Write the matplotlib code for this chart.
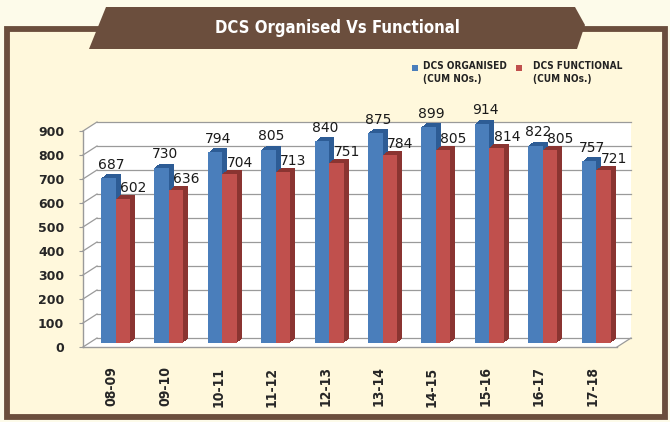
import matplotlib
matplotlib.use("Agg")
import matplotlib.pyplot as plt
import numpy as np
from matplotlib.patches import Rectangle, Polygon
from matplotlib.transforms import ScaledTranslation

# data
years = ['08-09', '09-10', '10-11', '11-12', '12-13', '13-14', '14-15', '15-16', '16-17', '17-18']
organised = [687, 730, 794, 805, 840, 875, 899, 914, 822, 757]
functional = [602, 636, 704, 713, 751, 784, 805, 814, 805, 721]
yticks = [0, 100, 200, 300, 400, 500, 600, 700, 800, 900]

W, H = 670, 422
BROWN = '#6B4E3D'
BLUE, BLUE_DK = '#4A7EBB', '#2D5C95'
RED, RED_DK = '#C0504D', '#8A3431'
GRID = '#9a9a9a'


def fx(px):
    return px / W


def fy(py):
    return 1 - py / H


fig = plt.figure(figsize=(W / 100, H / 100), dpi=100)
fig.patch.set_facecolor('#FDFBEA')

# framed panel + title banner
fig.add_artist(Rectangle((fx(6.75), fy(417)), fx(665) - fx(6.75), fy(29) - fy(417),
                         transform=fig.transFigure, facecolor='#FFF8DC',
                         edgecolor=BROWN, lw=4.2, zorder=0))
banner = [(106, 7), (575, 7), (585, 25), (577, 49), (89, 49)]
fig.add_artist(Polygon([(fx(a), fy(b)) for a, b in banner], closed=True,
                       transform=fig.transFigure, facecolor=BROWN, edgecolor='none', zorder=1))
fig.text(fx(337), fy(28), 'DCS Organised Vs Functional', color='white', fontsize=12,
         fontweight='bold', fontstretch='condensed', ha='center', va='center', zorder=2)

# legend
for sx, tx, col, lab in [(412, 423, BLUE, 'DCS ORGANISED\n(CUM NOs.)'),
                         (516, 533, RED, 'DCS FUNCTIONAL\n(CUM NOs.)')]:
    fig.add_artist(Rectangle((fx(sx), fy(71)), 6 / W, 6 / H, transform=fig.transFigure,
                             facecolor=col, edgecolor='none', zorder=2))
    fig.text(fx(tx), fy(61), lab, fontsize=7.2, fontweight='bold', fontstretch='condensed',
             color='#222222', ha='left', va='top', linespacing=1.35)

ax = fig.add_axes([fx(83), 75 / H, 534 / W, 216 / H])
ax.set_facecolor('none')
ax.set_xlim(-0.534, 9.466)
ax.set_ylim(0, 900)

# 3d wall, floor and gridlines (back plane offset)
ox, oy = 14 / 534, 9 / 216
wall = [(0, 0), (0, 1), (ox, 1 + oy), (1 + ox, 1 + oy), (1 + ox, oy), (1, 0)]
ax.add_patch(Polygon(wall, closed=True, transform=ax.transAxes, facecolor='white',
                     edgecolor='none', zorder=0, clip_on=False))
for v in yticks:
    f = v / 900
    ax.plot([ox, 1 + ox], [f + oy, f + oy], transform=ax.transAxes, color=GRID, lw=0.9,
            zorder=1, clip_on=False)
    ax.plot([0, ox], [f, f + oy], transform=ax.transAxes, color=GRID, lw=0.9,
            zorder=1, clip_on=False)
ax.plot([1, 1 + ox], [0, oy], transform=ax.transAxes, color=GRID, lw=0.9, zorder=1, clip_on=False)

# bars sit a little inside the depth; depth faked by stacking shifted copies
x = np.arange(len(years))
w = 0.27


def shift(dx, dy):
    return ax.transData + ScaledTranslation(dx / 100, dy / 100, fig.dpi_scale_trans)


tr = shift(4, 4)
for k in range(5, 0, -1):
    ax.bar(x - w, organised, w, align='edge', color=BLUE_DK, transform=shift(4 + k, 4 + 0.8 * k),
           zorder=2, clip_on=False)
ax.bar(x - w, organised, w, align='edge', color=BLUE, transform=tr, zorder=3, clip_on=False)
for k in range(5, 0, -1):
    ax.bar(x, functional, w, align='edge', color=RED_DK, transform=shift(4 + k, 4 + 0.8 * k),
           zorder=4, clip_on=False)
ax.bar(x, functional, w, align='edge', color=RED, transform=tr, zorder=5, clip_on=False)

for i in range(len(years)):
    ax.annotate(str(organised[i]), xy=(x[i] - w / 2, organised[i]), xycoords=tr,
                xytext=(2.2, 6.8), textcoords='offset points', ha='center', va='baseline',
                fontsize=10, color='#1a1a1a', zorder=6)
    ax.annotate(str(functional[i]), xy=(x[i] + w / 2, functional[i]), xycoords=tr,
                xytext=(7.6, 5), textcoords='offset points', ha='center', va='baseline',
                fontsize=10, color='#1a1a1a', zorder=6)

for s in ['top', 'right']:
    ax.spines[s].set_visible(False)
for s in ['left', 'bottom']:
    ax.spines[s].set_color(GRID)
    ax.spines[s].set_linewidth(1)

ax.set_yticks(yticks)
ax.set_yticklabels([str(v) for v in yticks])
ax.tick_params(axis='y', direction='out', length=3, color=GRID, pad=10.5,
               labelsize=9, labelcolor='#262626')
plt.setp(ax.get_yticklabels(), fontweight='bold')

ax.set_xticks(x)
ax.set_xticklabels(years, rotation=90)
ax.tick_params(axis='x', length=0, pad=14, labelsize=10, labelcolor='#262626')
plt.setp(ax.get_xticklabels(), fontweight='bold', fontstretch='condensed')

fig.savefig('out.png', dpi=100, facecolor=fig.get_facecolor())
